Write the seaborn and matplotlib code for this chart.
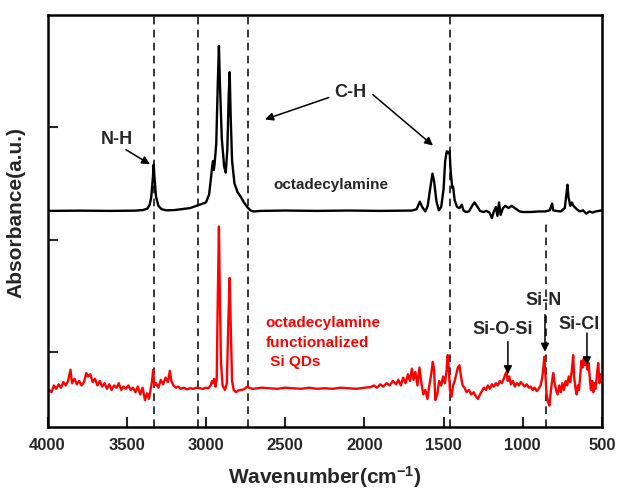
import numpy as np
import pandas as pd
import matplotlib
matplotlib.use("Agg")
import matplotlib.pyplot as plt
import seaborn as sns

# ---------------- data ----------------
black_wn = [4000, 3800, 3600, 3450, 3400, 3370, 3355, 3345, 3335, 3330, 3325, 3315, 3300, 3280,
            3250, 3200, 3100, 3050, 3000, 2980, 2968, 2960, 2955, 2950, 2945, 2935, 2925, 2918,
            2912, 2900, 2885, 2875, 2865, 2856, 2850, 2844, 2835, 2820, 2800, 2780, 2760, 2740,
            2720, 2700, 2650, 2500, 2300, 2100, 1900, 1700, 1670, 1650, 1635, 1615, 1600, 1585,
            1570, 1560, 1545, 1530, 1515, 1500, 1490, 1480, 1470, 1462, 1455, 1445, 1440, 1430,
            1415, 1400, 1385, 1375, 1360, 1340, 1320, 1305, 1290, 1270, 1250, 1230, 1210, 1195,
            1185, 1170, 1160, 1150, 1140, 1125, 1110, 1090, 1070, 1050, 1020, 1000, 950, 900,
            860, 830, 820, 815, 808, 790, 760, 735, 725, 718, 712, 700, 690, 680, 660, 640, 620,
            600, 580, 560, 540, 520, 500]
black_abs = [2.255, 2.257, 2.255, 2.257, 2.262, 2.275, 2.31, 2.38, 2.55, 2.667, 2.56, 2.38, 2.30, 2.27,
             2.26, 2.262, 2.28, 2.305, 2.33, 2.40, 2.55, 2.66, 2.70, 2.62, 2.68, 2.85, 3.40, 3.724,
             3.40, 2.90, 2.65, 2.596, 2.80, 3.30, 3.491, 3.10, 2.70, 2.50, 2.42, 2.38, 2.33, 2.29,
             2.26, 2.25, 2.255, 2.258, 2.255, 2.258, 2.255, 2.258, 2.27, 2.337, 2.29, 2.25, 2.30, 2.45,
             2.587, 2.52, 2.34, 2.26, 2.29, 2.45, 2.70, 2.786, 2.77, 2.786, 2.60, 2.46, 2.47, 2.35,
             2.29, 2.28, 2.31, 2.26, 2.245, 2.25, 2.30, 2.33, 2.30, 2.255, 2.245, 2.255, 2.24, 2.19,
             2.24, 2.29, 2.21, 2.33, 2.22, 2.28, 2.30, 2.28, 2.30, 2.28, 2.25, 2.245, 2.245, 2.25,
             2.25, 2.26, 2.30, 2.32, 2.26, 2.255, 2.25, 2.28, 2.40, 2.488, 2.38, 2.30, 2.33, 2.30, 2.27, 2.25, 2.26,
             2.23, 2.25, 2.24, 2.25, 2.255, 2.26]

red_wn = [4000, 3990, 3975, 3960, 3945, 3930, 3915, 3900, 3885, 3870, 3855, 3845, 3830, 3815, 3800,
          3785, 3770, 3755, 3745, 3730, 3715, 3700, 3685, 3670, 3655, 3640, 3625, 3610, 3595, 3580,
          3565, 3550, 3535, 3520, 3505, 3490, 3475, 3460, 3445, 3430, 3415, 3400, 3385, 3372, 3360,
          3350, 3340, 3333, 3326, 3315, 3300, 3285, 3270, 3255, 3240, 3228, 3218, 3205, 3190, 3175,
          3160, 3140, 3120, 3100, 3080, 3060, 3040, 3020, 3000, 2985, 2970, 2962, 2955, 2948, 2940,
          2932, 2926, 2918, 2912, 2905, 2895, 2880, 2868, 2858, 2850, 2843, 2835, 2825, 2810, 2795,
          2780, 2760, 2740, 2720, 2700, 2650, 2600, 2550, 2500, 2450, 2400, 2350, 2300, 2250, 2200,
          2150, 2100, 2050, 2000, 1960, 1940, 1920, 1900, 1880, 1860, 1840, 1820, 1800, 1785, 1770,
          1755, 1740, 1725, 1712, 1700, 1690, 1678, 1665, 1652, 1640, 1628, 1615, 1602, 1590, 1578,
          1568, 1560, 1552, 1540, 1528, 1515, 1503, 1492, 1482, 1474, 1467, 1460, 1450, 1440, 1430,
          1420, 1410, 1400, 1390, 1380, 1368, 1355, 1340, 1325, 1310, 1295, 1282, 1270, 1258, 1245,
          1232, 1220, 1208, 1195, 1182, 1170, 1158, 1145, 1132, 1120, 1110, 1103, 1095, 1085, 1075,
          1062, 1050, 1038, 1025, 1012, 1000, 988, 975, 962, 950, 938, 925, 912, 900, 888, 878, 870,
          864, 858, 850, 840, 832, 822, 815, 808, 800, 790, 780, 770, 760, 750, 740, 730, 720, 710,
          700, 690, 682, 676, 668, 660, 652, 645, 638, 630, 622, 615, 608, 600, 592, 585, 578, 570,
          562, 555, 548, 540, 532, 524, 516, 508, 500]
red_abs = [0.63, 0.66, 0.64, 0.70, 0.67, 0.71, 0.68, 0.73, 0.70, 0.74, 0.84, 0.72, 0.76, 0.71, 0.74,
           0.70, 0.73, 0.81, 0.78, 0.80, 0.73, 0.76, 0.70, 0.74, 0.69, 0.72, 0.67, 0.71, 0.66, 0.70,
           0.68, 0.72, 0.66, 0.69, 0.67, 0.70, 0.66, 0.68, 0.64, 0.69, 0.62, 0.68, 0.57, 0.63, 0.58,
           0.66, 0.74, 0.84, 0.70, 0.72, 0.68, 0.75, 0.71, 0.77, 0.73, 0.83, 0.74, 0.70, 0.68, 0.69,
           0.67, 0.68, 0.665, 0.675, 0.67, 0.68, 0.675, 0.67, 0.68, 0.675, 0.70, 0.74, 0.72, 0.76, 0.69,
           0.75, 1.40, 2.116, 1.50, 0.90, 0.70, 0.66, 0.72, 1.30, 1.658, 1.20, 0.74, 0.66, 0.64, 0.655,
           0.66, 0.665, 0.69, 0.675, 0.67, 0.68, 0.675, 0.67, 0.68, 0.675, 0.67, 0.68, 0.67, 0.675, 0.67,
           0.68, 0.675, 0.67, 0.68, 0.685, 0.70, 0.68, 0.71, 0.69, 0.72, 0.70, 0.74, 0.71, 0.75, 0.70,
           0.77, 0.72, 0.80, 0.74, 0.85, 0.75, 0.82, 0.70, 0.86, 0.72, 0.62, 0.66, 0.58, 0.70, 0.80,
           0.91, 0.84, 0.57, 0.62, 0.74, 0.70, 0.78, 0.72, 0.82, 0.97, 0.85, 0.66, 0.60, 0.70, 0.74,
           0.80, 0.86, 0.88, 0.78, 0.70, 0.68, 0.64, 0.66, 0.62, 0.64, 0.60, 0.58, 0.62, 0.65, 0.68,
           0.66, 0.70, 0.67, 0.71, 0.69, 0.72, 0.70, 0.74, 0.72, 0.76, 0.80, 0.82, 0.74, 0.78, 0.71,
           0.74, 0.69, 0.72, 0.70, 0.73, 0.71, 0.69, 0.71, 0.68, 0.69, 0.66, 0.68, 0.65, 0.67, 0.70, 0.76, 0.86,
           0.955, 0.82, 0.62, 0.55, 0.52, 0.66, 0.74, 0.81, 0.73, 0.66, 0.62, 0.70, 0.64, 0.72, 0.66, 0.74, 0.70, 0.78,
           0.73, 0.84, 0.97, 0.78, 0.68, 0.62, 0.70, 0.66, 0.78, 0.92, 0.86, 0.94, 0.88, 0.93, 0.84, 0.90, 0.78, 0.66,
           0.74, 0.64, 0.72, 0.67, 0.80, 0.90, 0.72, 0.80, 0.78]

dashed_full = [3330, 3050, 2735, 1460]
dashed_partial = 855
x_ticks = [4000, 3500, 3000, 2500, 2000, 1500, 1000, 500]
y_ticks = [1, 2, 3]

# ---------------- figure ----------------
sns.set_style("ticks")
plt.rcParams['font.family'] = ['Liberation Sans', 'DejaVu Sans']
plt.rcParams['font.weight'] = 'bold'
plt.rcParams['mathtext.fontset'] = 'custom'
plt.rcParams['mathtext.rm'] = 'Liberation Sans:bold'
plt.rcParams['mathtext.it'] = 'Liberation Sans:bold'
plt.rcParams['mathtext.bf'] = 'Liberation Sans:bold'

fig = plt.figure(figsize=(6.17, 4.90), dpi=100)
ax = fig.add_axes([0.077, 0.1286, 0.8987, 0.8408])

df_b = pd.DataFrame({"wn": black_wn, "abs": black_abs})
df_r = pd.DataFrame({"wn": red_wn, "abs": red_abs})
sns.lineplot(data=df_b, x="wn", y="abs", ax=ax, color="black", lw=1.7, estimator=None, sort=True)
sns.lineplot(data=df_r, x="wn", y="abs", ax=ax, color="#ff0000", lw=1.7, estimator=None, sort=True)

ax.set_xlim(4000, 500)
ax.set_ylim(0.33, 4.0)
for xv in dashed_full:
    ax.axvline(xv, color="black", lw=1.1, ls=(0, (5, 3.5)), zorder=1)
ax.plot([dashed_partial, dashed_partial], [0.33, 2.15], color="black", lw=1.1, ls=(0, (5, 3.5)), zorder=1)

ax.set_xticks(x_ticks)
ax.set_xticklabels([str(t) for t in x_ticks], fontsize=12, fontweight='bold')
ax.set_yticks(y_ticks)
ax.set_yticklabels([])
ax.tick_params(direction='in', length=7, width=1.5, pad=8)
for s in ax.spines.values():
    s.set_linewidth(1.8)
    s.set_color("black")

ax.set_xlabel("Wavenumber(cm$^{-1}$)", fontsize=15, fontweight='bold', labelpad=8)
ax.set_ylabel("Absorbance(a.u.)", fontsize=15, fontweight='bold')
ax.yaxis.set_label_coords(-0.040, 0.52)

# annotations
ap = dict(arrowstyle="-|>", color="black", lw=1.1, mutation_scale=12, shrinkA=0, shrinkB=0)
ax.text(3561, 2.89, "N-H", fontsize=13, fontweight='bold', ha='center', va='center')
ax.annotate("", xy=(3353, 2.67), xytext=(3505, 2.80), arrowprops=ap)
ax.text(2091, 3.31, "C-H", fontsize=13, fontweight='bold', ha='center', va='center')
ax.annotate("", xy=(2627, 3.07), xytext=(2224, 3.265), arrowprops=ap)
ax.annotate("", xy=(1567, 2.837), xytext=(1946, 3.29), arrowprops=ap)
ax.text(2211, 2.49, "octadecylamine", fontsize=11, fontweight='bold', ha='center', va='center')

ax.text(2622, 1.257, "octadecylamine", fontsize=11, fontweight='bold', color="#ff0000", ha='left', va='center')
ax.text(2622, 1.078, "functionalized", fontsize=11, fontweight='bold', color="#ff0000", ha='left', va='center')
ax.text(2622, 0.908, " Si QDs", fontsize=11, fontweight='bold', color="#ff0000", ha='left', va='center')

ax.text(1127, 1.194, "Si-O-Si", fontsize=13, fontweight='bold', ha='center', va='center')
ax.annotate("", xy=(1094, 0.80), xytext=(1094, 1.09), arrowprops=ap)
ax.text(866, 1.456, "Si-N", fontsize=13, fontweight='bold', ha='center', va='center')
ax.annotate("", xy=(860, 1.0), xytext=(860, 1.33), arrowprops=ap)
ax.text(645, 1.239, "Si-Cl", fontsize=13, fontweight='bold', ha='center', va='center')
ax.annotate("", xy=(595, 0.88), xytext=(595, 1.167), arrowprops=ap)

fig.savefig("out.png", dpi=100)
